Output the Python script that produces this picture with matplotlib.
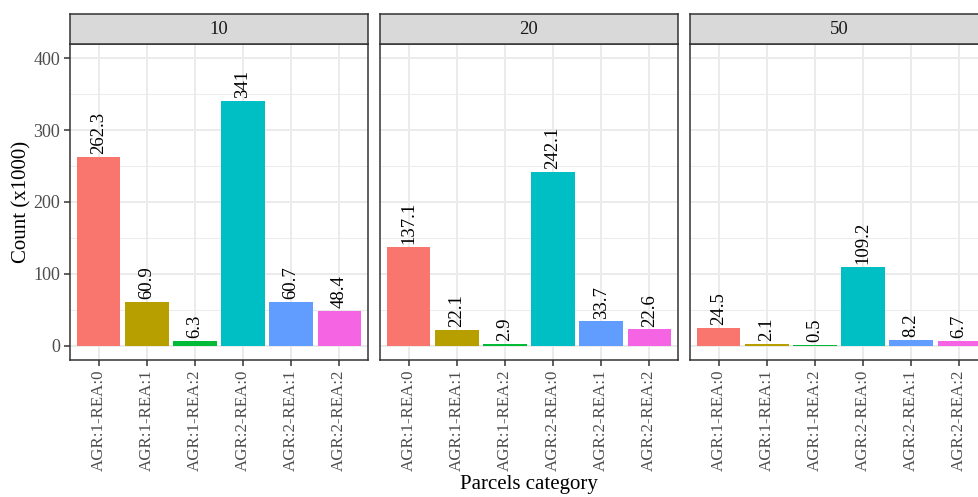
import matplotlib
matplotlib.use("Agg")
import matplotlib.pyplot as plt
from matplotlib.ticker import MultipleLocator

plt.rcParams['font.family'] = ['Liberation Serif', 'DejaVu Serif']

categories = ["AGR:1-REA:0", "AGR:1-REA:1", "AGR:1-REA:2",
              "AGR:2-REA:0", "AGR:2-REA:1", "AGR:2-REA:2"]
facets = ["10", "20", "50"]
counts_10 = [262.3, 60.9, 6.3, 341, 60.7, 48.4]
counts_20 = [137.1, 22.1, 2.9, 242.1, 33.7, 22.6]
counts_50 = [24.5, 2.1, 0.5, 109.2, 8.2, 6.7]
colors = ["#F8766D", "#B79F00", "#00BA38", "#00BFC4", "#619CFF", "#F564E3"]

W, H = 979, 497
fig = plt.figure(figsize=(W / 100, H / 100), dpi=100)

def px(x0, y0, x1, y1):
    # pixel box (top-left origin) -> figure fraction
    return [x0 / W, 1 - y1 / H, (x1 - x0) / W, (y1 - y0) / H]

panel_left = [70, 380, 690]
panel_w = 298
top, strip_bot, bot = 14, 44, 360
dark = "#333333"

for i, (name, vals) in enumerate(zip(facets, [counts_10, counts_20, counts_50])):
    x0 = panel_left[i]
    ax = fig.add_axes(px(x0, strip_bot, x0 + panel_w, bot))
    xs = list(range(1, len(categories) + 1))
    ax.bar(xs, vals, width=0.9, color=colors, zorder=2)
    for x, v in zip(xs, vals):
        ax.annotate(f"{v:g}", (x, v), xytext=(0, 2), textcoords="offset points",
                    rotation=90, ha="center", va="bottom", fontsize=13.5, color="black")
    ax.set_xlim(0.4, 6.6)
    ax.set_ylim(-20, 420)
    ax.yaxis.set_major_locator(MultipleLocator(100))
    ax.yaxis.set_minor_locator(MultipleLocator(50))
    ax.set_xticks(xs)
    ax.set_xticklabels(categories, rotation=90, fontsize=12.2, color="#4D4D4D")
    ax.grid(True, which="major", color="#EBEBEB", lw=1.4, zorder=0)
    ax.grid(True, which="minor", axis="y", color="#EBEBEB", lw=0.7, zorder=0)
    ax.set_axisbelow(True)
    for s in ax.spines.values():
        s.set_color(dark)
        s.set_linewidth(1.1)
    ax.tick_params(axis="x", length=4, width=1.1, color=dark, pad=3)
    ax.tick_params(which="minor", length=0)
    if i == 0:
        ax.tick_params(axis="y", length=4, width=1.1, color=dark, labelsize=13,
                       labelcolor="#4D4D4D", pad=3)
    else:
        ax.tick_params(axis="y", length=0, labelleft=False)

    sax = fig.add_axes(px(x0, top, x0 + panel_w, strip_bot))
    sax.set_facecolor("#D9D9D9")
    sax.set_xticks([])
    sax.set_yticks([])
    for s in sax.spines.values():
        s.set_color(dark)
        s.set_linewidth(1.1)
    sax.text(0.5, 0.5, name, ha="center", va="center", fontsize=13.5,
             color="#1A1A1A", transform=sax.transAxes)

fig.text(22 / W, 1 - 202 / H, "Count (x1000)", rotation=90, ha="center",
         va="center", fontsize=15)
fig.text(529 / W, 1 - 485 / H, "Parcels category", ha="center", va="center",
         fontsize=15)

fig.savefig("out.png", dpi=100)
